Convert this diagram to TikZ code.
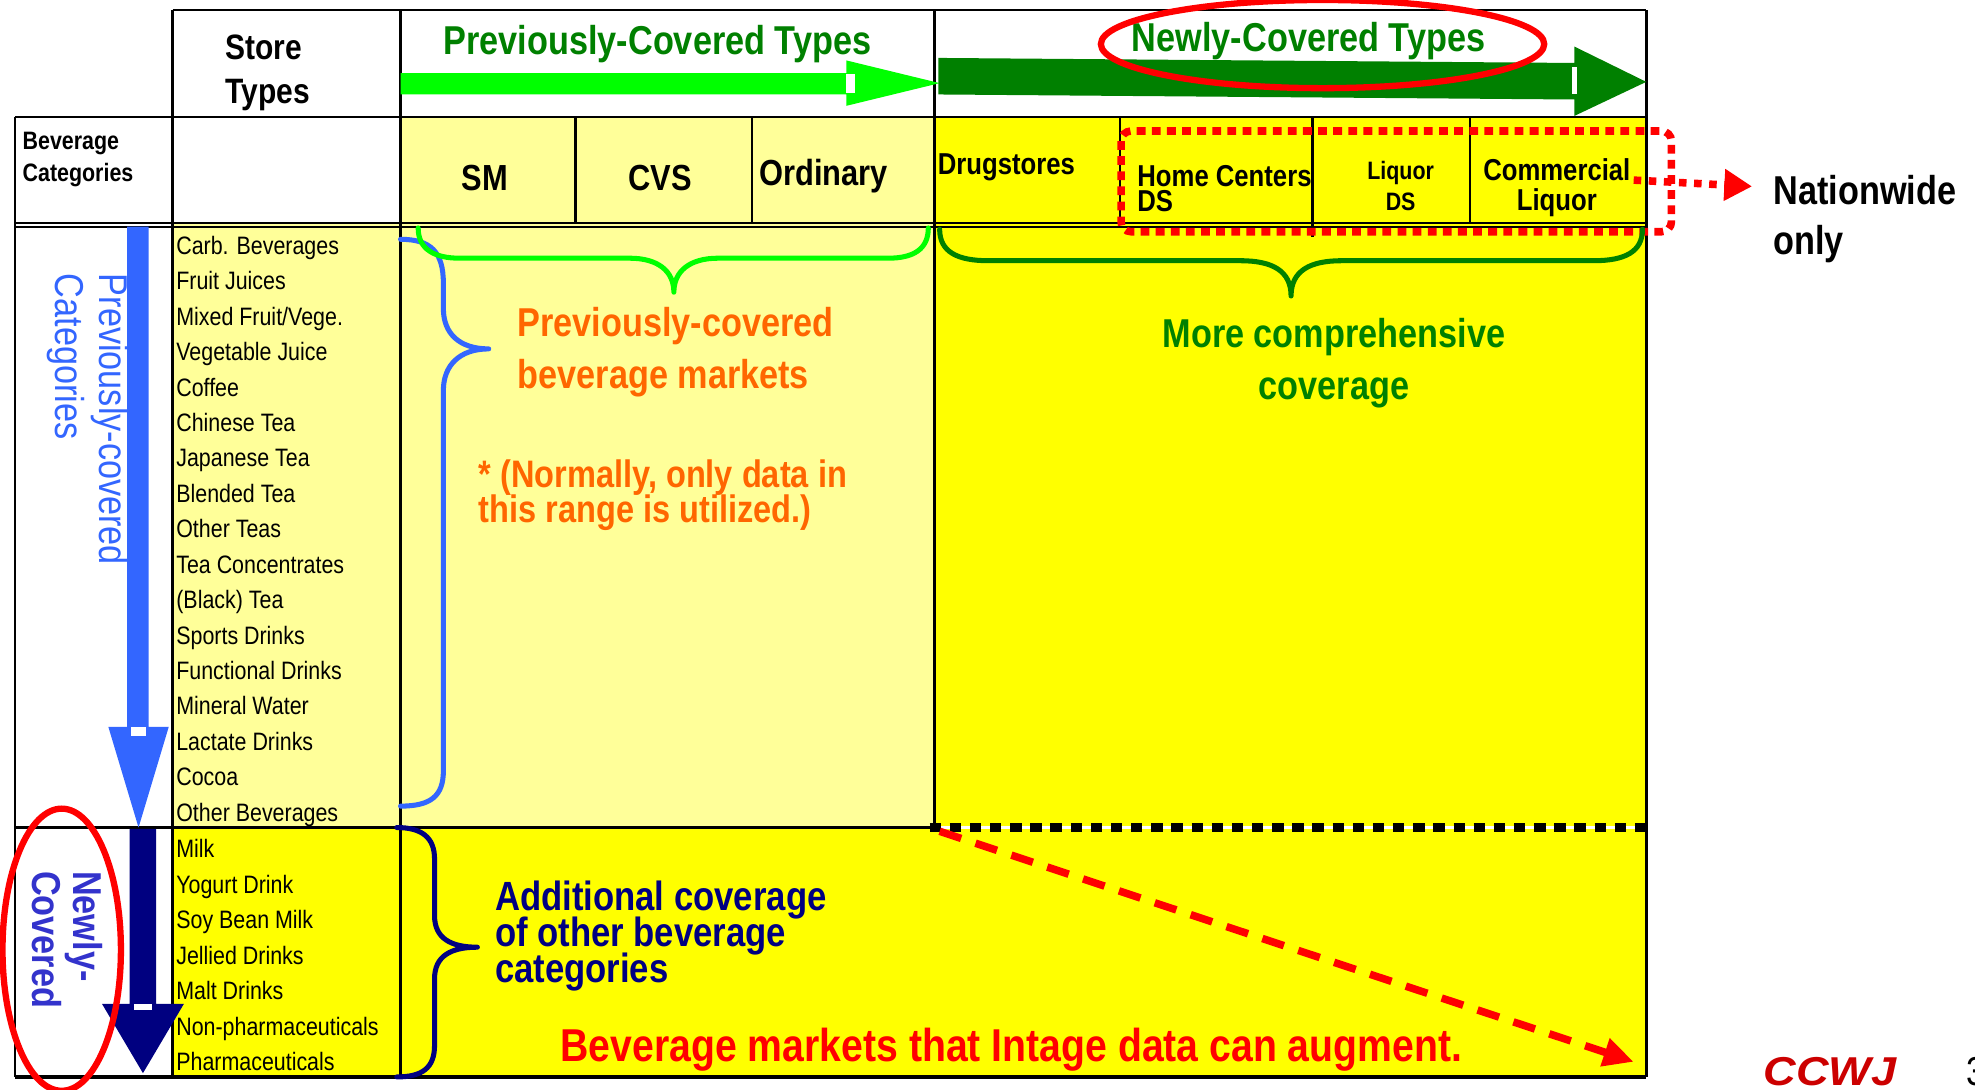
\documentclass[tikz,border=0pt]{standalone}
\usepackage{fontspec}
\setmainfont{Liberation Sans}[FakeStretch=0.85]
\newfontfamily\widesans{Liberation Sans}[FakeStretch=1.12]
\usetikzlibrary{arrows.meta}
\definecolor{paleyel}{HTML}{FFFF99}
\definecolor{fullyel}{HTML}{FFFF00}
\definecolor{litegreen}{HTML}{00FF00}
\definecolor{deepgreen}{HTML}{008000}
\definecolor{skyblue}{HTML}{3366FF}
\definecolor{navyblue}{HTML}{000080}
\definecolor{indigo}{HTML}{3333CC}
\definecolor{tangerine}{HTML}{FF6600}
\definecolor{brick}{HTML}{CC0000}
% font size with tight line spacing allowed
\newcommand\fsz[2]{\fontsize{#1}{#2}\selectfont\lineskiplimit=-30pt}
\tikzset{
  gridline/.style={line width=1pt, draw=black},
  txt/.style={inner sep=0pt, outer sep=0pt},
  item/.style={txt, anchor=base west, font=\fsz{10}{12}},
  colhead/.style={txt, font=\bfseries\fsz{14.4}{17}},
  brace/.style={line width=2pt, line cap=round, line join=round},
  ring/.style={draw=red, line width=2.5pt},
}
\begin{document}
\begin{tikzpicture}[x=0.5pt,y=-0.5pt]
\useasboundingbox (0,0) rectangle (1568,865);
\fill[white] (0,0) rectangle (1568,865);

% cell backgrounds
\fill[paleyel] (318,93) rectangle (742,178);
\fill[fullyel] (742,93) rectangle (1307,178);
\fill[paleyel] (137,178) rectangle (742,657);
\fill[fullyel] (742,178) rectangle (1307,855);
\fill[fullyel] (137,657) rectangle (742,855);

% table rules
\draw[gridline] (137,8) -- (1307,8);
\draw[gridline] (12,93) -- (1307,93);
\draw[gridline] (12,177) -- (1307,177);
\draw[gridline, line width=0.8pt] (12,180.5) -- (1307,180.5);
\draw[gridline] (12,657) -- (742,657);
\draw[gridline, line width=1.5pt] (12,855) -- (1307,855);
\draw[gridline] (12,93) -- (12,855);
\draw[gridline] (137,8) -- (137,855);
\draw[gridline] (318,8) -- (318,855);
\draw[gridline] (742,8) -- (742,657);
\draw[gridline] (1307,8) -- (1307,855);
\draw[gridline] (457,93) -- (457,177);
\draw[gridline] (597,93) -- (597,177);
\draw[gridline] (889,93) -- (889,177);
\draw[gridline] (1042,93) -- (1042,188);
\draw[gridline] (1167,93) -- (1167,177);

% boundary between the two category groups on the right side
\draw[white, line width=1pt] (742,657) -- (1307,657);
\draw[black, line width=3.5pt, dash pattern=on 4.5pt off 3.5pt] (738,657) -- (1307,657);

% header block arrows
\fill[litegreen] (318,58) -- (672,58) -- (672,48) -- (746,66) -- (672,84) -- (672,75) -- (318,75) -- cycle;
\fill[white] (672,59) rectangle (679,74);
\fill[deepgreen] (745,46) -- (1250,50) -- (1250,37) -- (1307,65) -- (1250,92) -- (1250,79) -- (745,75) -- cycle;
\fill[white] (1248,53) rectangle (1252,75);

% vertical block arrows
\fill[skyblue] (101,180) -- (118,180) -- (118,577) -- (134,577) -- (110,657) -- (86,577) -- (101,577) -- cycle;
\fill[white] (104,577) rectangle (116,584);
\fill[navyblue] (103,658) -- (124,658) -- (124,797) -- (146,797) -- (113.5,852) -- (81,797) -- (103,797) -- cycle;
\fill[white] (106,797) rectangle (121,802);

% header texts
\node[txt, font=\bfseries\fsz{14}{17.5}, align=left, anchor=west] (storetypes) at (179,58) {Store\\Types};
\node[txt, font=\bfseries\fsz{16}{19}, text=deepgreen] (prevtypes) at (522,35) {Previously-Covered Types};
\node[txt, font=\bfseries\fsz{16}{19}, text=deepgreen] (newtypes) at (1039,33) {Newly-Covered Types};
\node[txt, font=\bfseries\fsz{10}{12.5}, align=left, anchor=west] (bevcat) at (18,126.5) {Beverage\\Categories};
\node[colhead] (sm) at (385,141) {SM};
\node[colhead] (cvs) at (524,141) {CVS};
\node[colhead] (ordinary) at (654,140) {Ordinary};
\node[txt, font=\bfseries\fsz{12}{14}] (drug) at (799,133) {Drugstores};
\node[txt, font=\bfseries\fsz{12}{10}, align=left, anchor=west] (homec) at (903,150) {Home Centers\\DS};
\node[txt, font=\bfseries\fsz{10}{12.5}, align=center] (liqds) at (1112,147.5) {Liquor\\DS};
\node[txt, font=\bfseries\fsz{12}{12}, align=center] (comliq) at (1236,149) {Commercial\\Liquor};
\node[txt, font=\bfseries\fsz{16}{20}, align=left, anchor=west] (nation) at (1408,174) {Nationwide\\only};

% nationwide-only frame and pointer
\draw[red, line width=3pt, dash pattern=on 3.5pt off 2.5pt, rounded corners=4pt] (890,104) rectangle (1327,184);
\coordinate (natail) at (1297,143);
\coordinate (natip) at (1391,148);
\draw[red, line width=3pt, dash pattern=on 3pt off 3pt, -{Triangle[length=11pt,width=12pt]}] (natail) -- (natip);

% category lists
\foreach \name [count=\i from 0] in {Carb. Beverages, Fruit Juices, Mixed Fruit/Vege., Vegetable Juice, Coffee, Chinese Tea, Japanese Tea, Blended Tea, Other Teas, Tea Concentrates, (Black) Tea, Sports Drinks, Functional Drinks, Mineral Water, Lactate Drinks, Cocoa, Other Beverages}
  \node[item] (old\i) at (140,202+28.125*\i) {\name};
\foreach \name [count=\i from 0] in {Milk, Yogurt Drink, Soy Bean Milk, Jellied Drinks, Malt Drinks, Non-pharmaceuticals, Pharmaceuticals}
  \node[item] (new\i) at (140,681+28.15*\i) {\name};

% side labels
\node[txt, font=\fsz{16}{17.5}, text=skyblue, align=left, rotate=-90] (prevcat) at (69.5,333) {Previously-covered\\Categories};
\node[txt, font=\bfseries\fsz{16}{16.5}, text=indigo, align=left, rotate=-90] (newcat) at (53.5,746) {Newly-\\Covered};

% braces
\draw[brace, skyblue] (318,190) .. controls (342,190) and (352,200) .. (352,225) -- (352,245)
  .. controls (352,265) and (365,277) .. (388,277) .. controls (365,277) and (352,290) .. (352,310)
  -- (352,612) .. controls (352,632) and (342,640) .. (318,640);
\draw[brace, litegreen] (332,181) .. controls (332,198) and (345,205) .. (365,205) -- (500,205)
  .. controls (522,205) and (535,215) .. (535,232) .. controls (535,215) and (548,205) .. (570,205)
  -- (705,205) .. controls (725,205) and (737,198) .. (737,181);
\draw[brace, deepgreen] (746,182) .. controls (746,200) and (760,207) .. (785,207) -- (985,207)
  .. controls (1010,207) and (1025,215) .. (1025,235) .. controls (1025,215) and (1040,207) .. (1065,207)
  -- (1265,207) .. controls (1290,207) and (1304,200) .. (1304,182);
\draw[brace, navyblue] (315,657) .. controls (335,657) and (345,665) .. (345,682) -- (345,727)
  .. controls (345,745) and (358,752) .. (379,752) .. controls (358,752) and (345,759) .. (345,777)
  -- (345,830) .. controls (345,848) and (335,855) .. (315,855);

% annotations
\node[txt, font=\bfseries\fsz{16}{20.5}, text=tangerine, align=left, anchor=west] (prevmkt) at (411,279.5) {Previously-covered\\beverage markets};
\node[txt, font=\bfseries\fsz{15.2}{14}, text=tangerine, align=left, anchor=west] (normally) at (380,393) {* (Normally, only data in\\this range is utilized.)};
\node[txt, font=\bfseries\fsz{16}{20.5}, text=deepgreen, align=center] (morecov) at (1059,288.5) {More comprehensive\\coverage};
\node[txt, font=\bfseries\fsz{16.2}{14.25}, text=navyblue, align=left, anchor=west] (addcov) at (393,743) {Additional coverage\\of other beverage\\categories};
\node[txt, font=\bfseries\fsz{18.3}{21}, text=red] (intage) at (803,833) {Beverage markets that Intage data can augment.};

\coordinate (augfrom) at (746,660);
\coordinate (augto) at (1297,843);
\draw[red, line width=3pt, dash pattern=on 9pt off 6pt, -{Triangle[length=12pt,width=11pt]}] (augfrom) -- (augto);

% highlight rings
\draw[ring] (1050,35) ellipse [x radius=88pt, y radius=17.5pt];
\draw[ring] (49,754) ellipse [x radius=23.5pt, y radius=56pt];

% footer
\node[txt, font=\widesans\bfseries\itshape\fsz{16}{18}, text=brick] (ccwj) at (1453,851) {CCWJ};
\node[txt, font=\fsz{16}{18}, anchor=west] (pageno) at (1561,851) {3};
\end{tikzpicture}
\end{document}
